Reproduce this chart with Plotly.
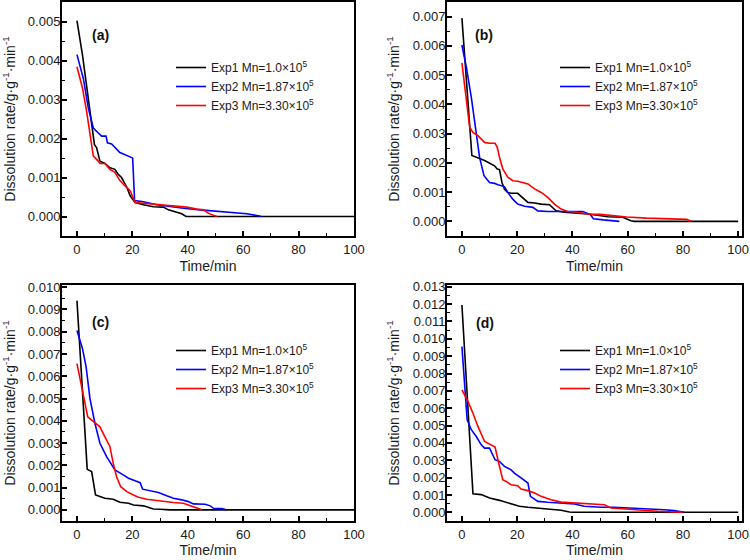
import plotly.graph_objects as go

# ---------------- data ----------------
series_names = ["Exp1 Mn=1.0×10<sup>5</sup>", "Exp2 Mn=1.87×10<sup>5</sup>", "Exp3 Mn=3.30×10<sup>5</sup>"]
series_colors = ["#000000", "#0000FF", "#FF0000"]
panel_labels = ["(a)", "(b)", "(c)", "(d)"]

# panel (a)
a_t1 = [0, 2, 6.3, 7.1, 8.3, 10.1, 11.9, 13.7, 14.9, 16.1, 18, 19.2, 21, 24, 27.6, 31.2, 33, 36, 37.8, 39.4, 100]
a_r1 = [0.00502, 0.00414, 0.00185, 0.00176, 0.00142, 0.00136, 0.00125, 0.00121, 0.00108, 0.00100, 0.00075, 0.00053, 0.00036, 0.00030, 0.00025, 0.00024, 0.00017, 0.00011, 0.00007, 0.0, 0.0]
a_t2 = [0, 2.3, 4.1, 5.9, 7.7, 8.9, 10.5, 11, 12.5, 15.5, 19.8, 20.1, 20.8, 24, 28.8, 33.6, 38.4, 44.5, 50.5, 56.5, 61.3, 65.5, 66.5]
a_r2 = [0.00415, 0.00354, 0.00278, 0.00227, 0.00214, 0.00206, 0.00206, 0.00189, 0.00186, 0.00164, 0.00151, 0.00150, 0.00041, 0.00038, 0.00030, 0.00025, 0.00021, 0.00017, 0.00014, 0.00011, 0.00007, 0.00002, 0.0]
a_t3 = [0, 2, 3.5, 4.7, 5.9, 7.7, 8.3, 10.1, 11.9, 13.7, 15.5, 17.3, 19.2, 21, 24, 27.6, 31.2, 36, 39.6, 43.3, 45.7, 47.5, 49.3, 50.5]
a_r3 = [0.00384, 0.00329, 0.00269, 0.00210, 0.00155, 0.00142, 0.00136, 0.00136, 0.00121, 0.00113, 0.00092, 0.00079, 0.00066, 0.00036, 0.00034, 0.00032, 0.00028, 0.00025, 0.00024, 0.00019, 0.00017, 0.00008, 0.00003, 0.0]

# panel (b)
b_t1 = [0, 3.6, 8.2, 11.8, 12.8, 13.6, 14.5, 15.4, 16.6, 17.8, 20.2, 22, 23.9, 26.3, 28.7, 31.7, 34.1, 37.1, 40.7, 45.5, 50.4, 52.8, 58.2, 61.2, 62.4, 100]
b_r1 = [0.00695, 0.00225, 0.00208, 0.00190, 0.00179, 0.00177, 0.00133, 0.00110, 0.00099, 0.00096, 0.00096, 0.00082, 0.00065, 0.00063, 0.00059, 0.00057, 0.00036, 0.00031, 0.00029, 0.00025, 0.00019, 0.00016, 0.00014, 0.00002, 0.0, 0.0]
b_t2 = [0, 1.6, 3.4, 5.2, 6.4, 8, 10, 11.8, 13, 15.4, 16.6, 18.4, 20.2, 22.7, 25.7, 27.5, 31.1, 35.9, 40.7, 43.7, 46.4, 47.6, 51.2, 54.8, 57]
b_r2 = [0.00603, 0.00527, 0.00424, 0.00299, 0.00219, 0.00156, 0.00133, 0.00130, 0.00125, 0.00119, 0.00099, 0.00076, 0.00059, 0.00052, 0.00048, 0.00036, 0.00034, 0.00034, 0.00034, 0.00034, 0.00024, 0.00009, 0.00005, 0.00001, 0.0]
b_t3 = [0, 1.6, 2.8, 4, 5.8, 8.2, 10, 12, 12.8, 13.6, 14.8, 16.6, 18.4, 20.2, 22.7, 23.9, 26.3, 28.7, 31.1, 33.5, 35.9, 38.3, 40.7, 45.5, 50, 59.7, 66.9, 75.4, 81.4, 83.2]
b_r3 = [0.00542, 0.00413, 0.00322, 0.00304, 0.00293, 0.00270, 0.00267, 0.00267, 0.00253, 0.00219, 0.00179, 0.00151, 0.00139, 0.00137, 0.00130, 0.00128, 0.00111, 0.00099, 0.00082, 0.00059, 0.00042, 0.00034, 0.00033, 0.00025, 0.00024, 0.00015, 0.00011, 0.00009, 0.00007, 0.0]

# panel (c)
c_t1 = [0, 1.7, 3.7, 5.3, 6.7, 8.3, 10.1, 13.1, 15.5, 18.6, 20.4, 24, 25.8, 27.6, 30, 33.6, 100]
c_r1 = [0.00940, 0.00580, 0.00182, 0.00172, 0.00067, 0.00060, 0.00052, 0.00048, 0.00034, 0.00030, 0.00022, 0.00018, 0.00010, 0.00004, 0.00003, 0.0, 0.0]
c_t2 = [0, 2, 3.3, 4.7, 6.5, 8.3, 10.7, 13.7, 16.7, 18.6, 21, 22.8, 23.7, 26.4, 29.4, 32.4, 34.8, 37.8, 40.2, 42, 46.3, 48.1, 49.3, 52.3, 53.9]
c_r2 = [0.00806, 0.00724, 0.00642, 0.00500, 0.00388, 0.00299, 0.00239, 0.00179, 0.00157, 0.00142, 0.00131, 0.00122, 0.00093, 0.00087, 0.00078, 0.00063, 0.00052, 0.00045, 0.00037, 0.00027, 0.00025, 0.00018, 0.00007, 0.00006, 0.0]
c_t3 = [0, 1.7, 2.9, 3.9, 5.3, 6.5, 8.3, 10.1, 11.9, 13.1, 14.3, 15.8, 18, 20.4, 22.2, 25.2, 28.8, 32.4, 34.8, 38.4, 40.8, 43.3, 45.1]
c_r3 = [0.00657, 0.00552, 0.00478, 0.00418, 0.00403, 0.00391, 0.00373, 0.00328, 0.00284, 0.00209, 0.00149, 0.00104, 0.00082, 0.00067, 0.00057, 0.00048, 0.00042, 0.00037, 0.00033, 0.00030, 0.00019, 0.00010, 0.0]

# panel (d)
d_t1 = [0, 4, 7, 10, 13.6, 16.6, 19, 20.8, 23.9, 28.7, 32.3, 35.9, 38.9, 40.1, 100]
d_r1 = [0.01195, 0.00107, 0.00102, 0.00082, 0.00069, 0.00054, 0.00044, 0.00035, 0.00029, 0.00023, 0.00019, 0.00012, 0.00002, 0.0, 0.0]
d_t2 = [0, 1, 1.9, 3.4, 5.2, 7, 8.2, 10, 12, 13.6, 15.4, 17.8, 19, 21.4, 23.3, 23.9, 24.8, 27.5, 31.1, 35.9, 40.7, 44.3, 50.4, 55.2, 62.4, 67.2, 73.3, 76.9, 80.5]
d_r2 = [0.00955, 0.00706, 0.00533, 0.00476, 0.00437, 0.00389, 0.00370, 0.00370, 0.00303, 0.00293, 0.00265, 0.00245, 0.00226, 0.00198, 0.00178, 0.00169, 0.00092, 0.00063, 0.00058, 0.00054, 0.00048, 0.00035, 0.00029, 0.00029, 0.00025, 0.00019, 0.00015, 0.00010, 0.0]
d_t3 = [0, 2.2, 4, 5.8, 8.2, 10.6, 12, 13.3, 14.8, 16, 17.8, 20.2, 21.4, 23.9, 26.3, 28.7, 32.3, 35.9, 40.7, 45.5, 50.4, 51.6, 54, 58.8, 64.8, 70.8, 76.9, 79.9]
d_r3 = [0.00705, 0.00639, 0.00571, 0.00495, 0.00408, 0.00389, 0.00376, 0.00284, 0.00188, 0.00178, 0.00159, 0.00153, 0.00134, 0.00125, 0.00111, 0.00092, 0.00073, 0.00059, 0.00054, 0.00050, 0.00048, 0.00044, 0.00025, 0.00019, 0.00012, 0.00006, 0.00002, 0.0]

x_ticks = [0, 20, 40, 60, 80, 100]
y_ranges = [[-0.0005, 0.0055], [-0.0005, 0.0075], [-0.0005, 0.0101], [-0.0005, 0.0131]]
x_ranges = [[-5.4, 100], [-5.4, 101.4], [-5.4, 100], [-5.4, 101.4]]

panels = [
    [(a_t1, a_r1), (a_t2, a_r2), (a_t3, a_r3)],
    [(b_t1, b_r1), (b_t2, b_r2), (b_t3, b_r3)],
    [(c_t1, c_r1), (c_t2, c_r2), (c_t3, c_r3)],
    [(d_t1, d_r1), (d_t2, d_r2), (d_t3, d_r3)],
]

# ---------------- layout geometry ----------------
W, H = 750, 560
FONT = "Arial, Liberation Sans, sans-serif"
x_domains = [[62 / W, 354 / W], [447 / W, 742 / W], [62 / W, 354 / W], [447 / W, 742 / W]]
y_domains = [[1 - 236 / H, 1 - 2 / H], [1 - 236 / H, 1 - 2 / H], [1 - 521 / H, 1 - 285 / H], [1 - 521 / H, 1 - 285 / H]]
legend_pos = [(171 / W, 1 - 53 / H), (555 / W, 1 - 53 / H), (171 / W, 1 - 336 / H), (555 / W, 1 - 336 / H)]
label_pos = [(100 / W, 1 - 35 / H), (484 / W, 1 - 35 / H), (100 / W, 1 - 322 / H), (485 / W, 1 - 323 / H)]
x_title_standoff = [6, 6, 3, 3]

fig = go.Figure()
legend_keys = ["legend", "legend2", "legend3", "legend4"]

for p, series in enumerate(panels):
    xa = "x" if p == 0 else f"x{p + 1}"
    ya = "y" if p == 0 else f"y{p + 1}"
    for s, (t, r) in enumerate(series):
        fig.add_trace(go.Scatter(
            x=t, y=r, mode="lines", name=series_names[s],
            line=dict(color=series_colors[s], width=1.6),
            xaxis=xa, yaxis=ya, legend=legend_keys[p], showlegend=True,
        ))

layout = dict(
    width=W, height=H, margin=dict(l=0, r=0, t=0, b=0),
    paper_bgcolor="white", plot_bgcolor="white",
    font=dict(family=FONT, size=13, color="#222222"),
)

for p in range(4):
    xk = "xaxis" if p == 0 else f"xaxis{p + 1}"
    yk = "yaxis" if p == 0 else f"yaxis{p + 1}"
    xa_id = "x" if p == 0 else f"x{p + 1}"
    ya_id = "y" if p == 0 else f"y{p + 1}"
    layout[xk] = dict(
        domain=x_domains[p], anchor=ya_id, range=x_ranges[p],
        tickvals=x_ticks, ticks="inside", ticklen=5, tickwidth=1.5, tickcolor="black",
        minor=dict(dtick=10, tick0=0, ticks="inside", ticklen=3, tickwidth=1.2, tickcolor="black"),
        showline=True, linecolor="black", linewidth=2, mirror=True,
        showgrid=False, zeroline=False,
        tickfont=dict(size=13, family=FONT, color="#1a1a1a"),
        title=dict(text="Time/min", font=dict(size=14, family=FONT, color="#1a1a1a"),
                   standoff=x_title_standoff[p]),
        automargin=False,
    )
    layout[yk] = dict(
        domain=y_domains[p], anchor=xa_id, range=y_ranges[p],
        tick0=0, dtick=0.001, tickformat=".3f",
        ticks="inside", ticklen=5, tickwidth=1.5, tickcolor="black",
        minor=dict(dtick=0.0005, tick0=0, ticks="inside", ticklen=3, tickwidth=1.2, tickcolor="black"),
        showline=True, linecolor="black", linewidth=2, mirror=True,
        showgrid=False, zeroline=False, ticklabelstandoff=-3,
        tickfont=dict(size=13, family=FONT, color="#1a1a1a"),
        title=dict(text="Dissolution rate/g·g<sup>-1</sup>·min<sup>-1</sup>",
                   font=dict(size=14, family=FONT, color="#1a1a1a"), standoff=10),
        automargin=False,
    )
    lk = legend_keys[p]
    layout[lk] = dict(
        x=legend_pos[p][0], y=legend_pos[p][1], xanchor="left", yanchor="top",
        bgcolor="rgba(0,0,0,0)", borderwidth=0,
        font=dict(size=12, family=FONT, color="#1a1a1a"),
        tracegroupgap=0, itemclick=False,
    )

fig.update_layout(**layout)

for p in range(4):
    fig.add_annotation(
        x=label_pos[p][0], y=label_pos[p][1], xref="paper", yref="paper",
        xanchor="center", yanchor="middle",
        text=f"<b>{panel_labels[p]}</b>", showarrow=False,
        font=dict(size=14, family=FONT, color="#111111"),
    )

fig.write_html(
    "out.html",
    config={"displayModeBar": False},
    post_script="document.body.style.margin='0px';document.body.style.overflow='hidden';",
)
